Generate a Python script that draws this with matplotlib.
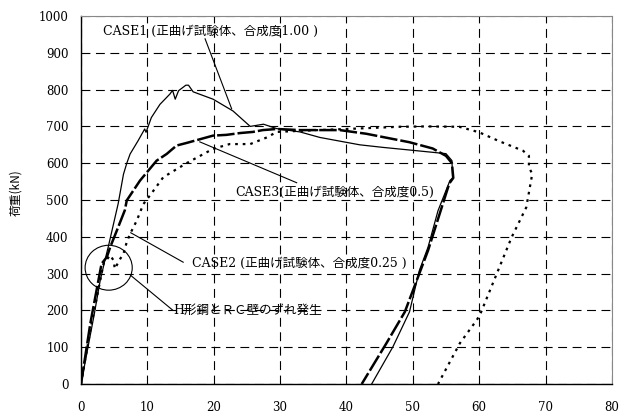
import matplotlib
matplotlib.use("Agg")
import matplotlib.pyplot as plt
from matplotlib.patches import Ellipse

# load-displacement data (x: displacement, y: load kN)
case1_x = [0, 1.0, 2.0, 2.9, 3.6, 4.1, 4.9, 5.6, 6.4, 6.9, 7.4, 8.6, 9.6, 9.8,
           10.6, 11.9, 13.4, 13.8, 14.2, 14.7, 15.8, 16.2, 16.9, 19.9, 22.9,
           25.5, 26.5, 27.5, 29.5, 33, 36, 42, 45.5, 50, 55, 55.9, 56.0, 55.6,
           53.8, 52.3, 51, 49.5, 47, 43.8]
case1_y = [0, 95, 190, 282, 336, 372, 435, 490, 570, 600, 625, 661, 693, 684,
           724, 760, 788, 798, 774, 797, 812, 812, 794, 774, 742,
           700, 703, 706, 694, 685, 670, 650, 643, 635, 626, 607, 560, 553,
           471, 372, 309, 196, 101, 0]

case2_x = [0, 1.4, 3.4, 4.4, 4.9, 5.1, 5.9, 6.4, 6.9, 7.4, 8.4, 9.4, 10.5,
           12.4, 15.9, 19.9, 22.4, 25.5, 28, 29.5, 33, 40, 48, 52, 57, 60, 63,
           66.6, 67.5, 67.5, 68, 67.1, 64.9, 60.1, 59.6, 57.1, 53.8]
case2_y = [0, 146, 327, 350, 336, 313, 340, 354, 386, 408, 444, 489, 515,
           562, 600, 639, 652, 652, 670, 685, 688, 693, 699, 700, 699, 684, 660,
           634, 620, 589, 571, 480, 399, 187, 173, 111, 0]

case3_x = [0, 1.4, 3.1, 3.9, 4.4, 5.4, 6.6, 6.9, 8.9, 11.4, 12.9, 14.4, 15.9,
           17.9, 19.9, 21.9, 24, 25.9, 27.4, 29.5, 33, 39, 43, 49.5, 53, 55,
           55.9, 56.1, 55.5, 52.3, 48.8, 46, 42.3]
case3_y = [0, 164, 327, 345, 372, 417, 472, 499, 553, 607, 625, 648, 655,
           665, 675, 677, 682, 685, 690, 693, 690, 690, 680, 657, 640, 620,
           600, 560, 545, 363, 196, 110, 0]

label1 = "CASE1 (正曲げ試験体、合成度1.00 )"
label2 = "CASE2 (正曲げ試験体、合成度0.25 )"
label3 = "CASE3(正曲げ試験体、合成度0.5)"
label_slip = "H形鋼とＲＣ壁のずれ発生"

fam = ["DejaVu Serif", "Noto Sans CJK JP"]

fig = plt.figure(figsize=(6.25, 4.18), dpi=100)
ax = fig.add_axes([0.1296, 0.0813, 0.8494, 0.8804])

ax.plot(case1_x, case1_y, color="black", lw=0.9)
ax.plot(case3_x, case3_y, color="black", lw=1.8, linestyle=(0, (7, 1.2)))
ax.plot(case2_x, case2_y, color="black", lw=1.6, linestyle=(0, (1.2, 2.2)))

ax.set_xlim(0, 80)
ax.set_ylim(0, 1000)
ax.set_xticks(range(0, 81, 10))
ax.set_yticks(range(0, 1001, 100))
ax.grid(True, color="black", linestyle=(0, (8, 5)), lw=0.8)
ax.tick_params(length=0, labelsize=8.5)
ax.tick_params(axis="x", pad=12)
ax.tick_params(axis="y", pad=9)
for lab in ax.get_xticklabels() + ax.get_yticklabels():
    lab.set_family(fam)
for s in ["top", "right"]:
    ax.spines[s].set_color("#888888")
for s in ["left", "bottom"]:
    ax.spines[s].set_color("black")
    ax.spines[s].set_linewidth(1.0)

ax.set_ylabel("荷重(kN)", family=["Noto Sans CJK JP"], fontsize=8.5, labelpad=6)
ax.yaxis.set_label_coords(-0.11, 0.52)

# annotations with leader lines
ax.text(3.3, 957, label1, family=fam, fontsize=9, va="center")
ax.plot([18.7, 22.7], [938, 748], color="black", lw=0.8)
ax.text(23.3, 520, label3, family=fam, fontsize=9, va="center")
ax.plot([17.9, 32.5], [658, 547], color="black", lw=0.8)
ax.text(16.7, 328, label2, family=fam, fontsize=9, va="center")
ax.plot([7.5, 15.4], [411, 331], color="black", lw=0.8)
ax.text(13.9, 200, label_slip, family=fam, fontsize=9, va="center")
ax.plot([7.5, 13.8], [295, 201], color="black", lw=0.8)
ax.add_patch(Ellipse((4.17, 316), 7.1, 122, fill=False, edgecolor="black", lw=0.8))

fig.savefig("out.png", dpi=100)
